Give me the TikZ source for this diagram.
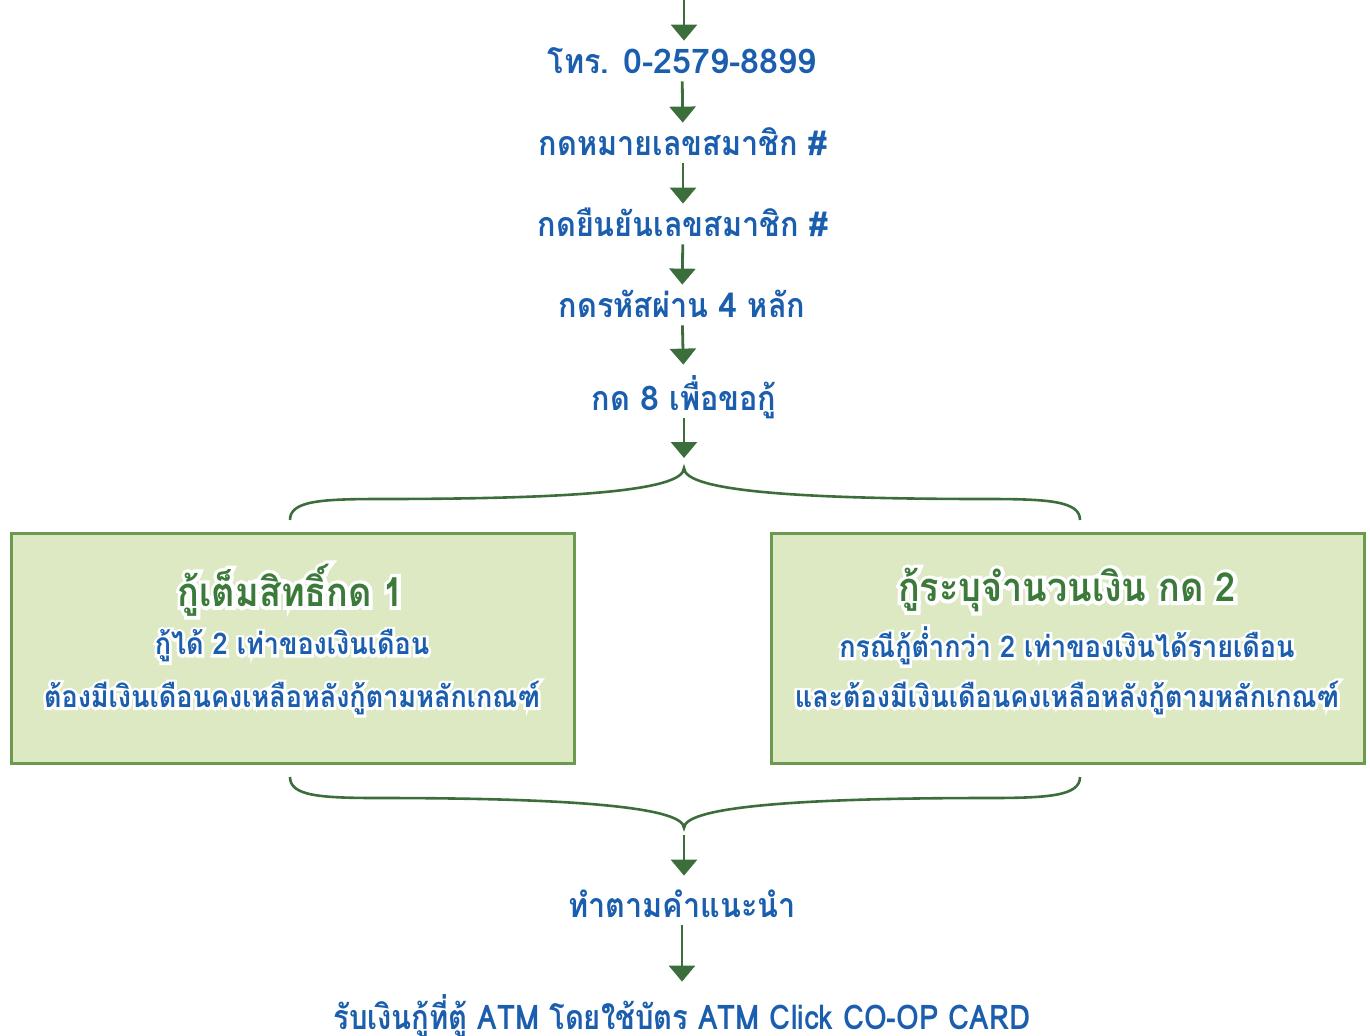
\documentclass[tikz,border=0pt]{standalone}
\usepackage{fontspec}
\setmainfont{Loma}[Script=Thai, FakeStretch=0.9]
\newfontfamily\latf{Loma}[Script=Thai]
\newfontfamily\condf{Loma}[Script=Thai, FakeStretch=0.86]
\newfontfamily\halof{Loma}[Script=Thai, FakeStretch=0.9, FakeBold=18]
\newcommand\lt[1]{{\latf #1}}
\usetikzlibrary{arrows.meta}
\definecolor{txtblue}{HTML}{1B5EAD}
\definecolor{arrgreen}{HTML}{3B6E3B}
\definecolor{ttlgreen}{HTML}{3C7A3A}
\definecolor{boxfill}{HTML}{DCE9C3}
\definecolor{boxline}{HTML}{6B9A50}
\tikzset{
  steptext/.style={text=txtblue, inner sep=0pt, text height=16pt, text depth=4pt,
    font=\fontsize{17}{20}\selectfont\bfseries},
  flow/.style={draw=arrgreen, line width=1.4pt, -{Triangle[width=13pt,length=8pt]}},
  brace/.style={draw=arrgreen, line width=1.3pt},
  optbox/.style={draw=boxline, fill=boxfill, line width=1.5pt, minimum height=115pt, inner sep=0pt},
  boxtitle/.style={text=ttlgreen, inner sep=0pt, font=\fontsize{20}{24}\selectfont\bfseries},
  boxtext/.style={text=txtblue, inner sep=0pt, font=\fontsize{15}{18}\selectfont\bfseries},
}
\newcommand\halonode[4]{%
  \node[#1,text=white] at (#3) {\halof\bfseries #4};
  \node[#1] (#2) at (#3) {#4};}
\begin{document}
\begin{tikzpicture}[x=0.5pt,y=-0.5pt]
\useasboundingbox (0,0) rectangle (1370,1035);
\coordinate (top) at (684,0);
\node[steptext] (t1) at (682,61) {โทร. \lt{0-2579-8899}};
\node[steptext] (t2) at (683,143) {กดหมายเลขสมาชิก \lt{\#}};
\node[steptext] (t3) at (683,224) {กดยืนยันเลขสมาชิก \lt{\#}};
\node[steptext] (t4) at (682,305) {กดรหัสผ่าน \lt{4} หลัก};
\node[steptext] (t5) at (684,398) {กด \lt{8} เพื่อขอกู้};
\coordinate (b1) at (684,468);
\coordinate (b2) at (684,828);
\node[steptext] (t6) at (682,905) {ทำตามคำแนะนำ};
\node[steptext, font=\fontsize{17}{20}\selectfont\bfseries\condf] (t7) at (682,1017) {รับเงินกู้ที่ตู้ ATM โดยใช้บัตร ATM Click CO-OP CARD};

\node[optbox, minimum width=281.5pt] (L) at (292.5,648) {};
\node[optbox, minimum width=296.5pt] (R) at (1067.5,648) {};

\halonode{boxtitle}{L1}{291,590}{กู้เต็มสิทธิ์กด 1}
\halonode{boxtext}{L2}{292,646}{กู้ได้ 2 เท่าของเงินเดือน}
\halonode{boxtext}{L3}{292,698}{ต้องมีเงินเดือนคงเหลือหลังกู้ตามหลักเกณฑ์}
\halonode{boxtitle}{R1}{1067,590}{กู้ระบุจำนวนเงิน กด 2}
\halonode{boxtext}{R2}{1067,646}{กรณีกู้ต่ำกว่า 2 เท่าของเงินได้รายเดือน}
\halonode{boxtext}{R3}{1067,698}{และต้องมีเงินเดือนคงเหลือหลังกู้ตามหลักเกณฑ์}

\draw[flow] (top) -- (top |- t1.north);
\draw[flow] (t1) -- (t2);
\draw[flow] (t2) -- (t3);
\draw[flow] (t3) -- (t4);
\draw[flow, shorten >=6.5pt] (t4) -- (t5);
\draw[flow, shorten >=5pt] (t5) -- (b1);
\draw[flow, shorten <=3.5pt, shorten >=4.5pt] (b2) -- (b2 |- t6.north);
\draw[flow, shorten >=7.5pt] (t6) -- (t7);

\draw[brace] (290,520) .. controls (290,501) and (320,499) .. (380,499)
  .. controls (560,499) and (684,492) .. (b1)
  .. controls (684,492) and (808,499) .. (988,499)
  .. controls (1048,499) and (1080,501) .. (1080,520);
\draw[brace] (290,777) .. controls (290,796) and (320,798) .. (380,798)
  .. controls (560,798) and (684,806) .. (b2)
  .. controls (684,806) and (808,798) .. (988,798)
  .. controls (1048,798) and (1080,796) .. (1080,777);
\end{tikzpicture}
\end{document}
